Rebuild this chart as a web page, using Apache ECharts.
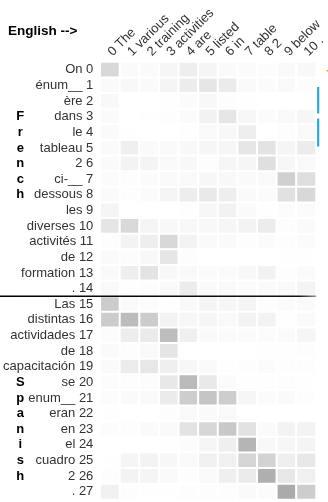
<!DOCTYPE html>
<html><head><meta charset="utf-8">
<script src="https://cdn.jsdelivr.net/npm/echarts@6/dist/echarts.min.js"></script>
<style>html,body{margin:0;padding:0;background:#fff}#c{width:328px;height:502px}</style>
</head><body><div id="c"></div>
<script>
const englishWords = ['The','various','training','activities','are','listed','in','table','2','below','.'];
const frenchWords = ['On','énum__','ère','dans','le','tableau','2','ci-__','dessous','les','diverses','activités','de','formation','.'];
const spanishWords = ['Las','distintas','actividades','de','capacitación','se','enum__','eran','en','el','cuadro','2','.'];
const frenchLetterRow = 3;
const spanishLetterRow = 20;

// attention weights: rows = source words, columns = English words
const frenchAttention = [
  [.153,.020,.020,.035,.067,.039,.020,.016,.012,.024,.027],
  [.020,.027,.020,.039,.075,.098,.078,.020,.016,.024,.012],
  [.027,0,0,.004,.016,.027,.008,.004,0,0,0],
  [.020,0,.004,.008,.016,.051,.098,.031,.016,.024,.035],
  [.020,.004,0,0,.004,.024,.027,.067,0,.008,.024],
  [.020,.063,.020,.020,.027,.035,.035,.098,.110,.039,.075],
  [.020,.047,.043,.024,.027,.008,.035,.035,.125,.031,.024],
  [.016,.008,.016,.024,.024,.031,.027,.020,.024,.184,.129],
  [.020,.008,.016,.039,.071,.086,.067,.020,.016,.118,.153],
  [.039,0,0,0,.004,.031,.051,.020,.004,.012,.016],
  [.102,.149,.039,.027,.027,.027,.035,.047,.075,.008,.020],
  [.008,.047,.067,.153,.047,.020,.020,.008,.016,.008,.016],
  [.020,.012,.027,.098,.008,0,0,0,0,.004,.004],
  [.024,.067,.110,.027,.024,.020,.020,.027,.051,.008,.020],
  [.024,.004,.008,.024,.075,.020,.024,.016,.020,.024,.043]
];
const spanishAttention = [
  [.200,.020,.012,.004,.024,.039,.035,.043,.008,.016,.020],
  [.200,.263,.200,.047,.031,.035,.024,.047,.047,.004,.020],
  [.012,.071,.078,.259,.063,.024,.020,.020,.016,.020,.035],
  [.020,.008,.024,.102,0,0,0,0,.004,.004,.008],
  [.020,.075,.094,.063,.031,.020,.004,.008,.016,.008,.008],
  [.012,.008,.012,.090,.271,.086,.016,.004,.004,.008,.004],
  [.012,.020,.024,.078,.196,.227,.196,.035,.016,.020,.008],
  [.004,0,0,.008,.024,.020,.024,0,0,0,0],
  [.012,.008,.020,.024,.110,.157,.216,.114,.020,.047,.047],
  [0,0,0,.004,.012,.035,.063,.290,.027,.035,.043],
  [.004,.039,.047,.031,.024,.059,.059,.165,.173,.063,.090],
  [.008,.047,.039,.024,.008,.024,.063,.078,.314,.094,.059],
  [.055,.008,.004,.004,.008,.008,.008,.020,.016,.329,.196]
];

const FONT = '"Liberation Sans", Arial, Helvetica, sans-serif';
const xLabels = englishWords.map((w, i) => i + ' ' + w);
const yWords = frenchWords.concat(spanishWords);
const yLabels = yWords.map((w, i) => w + ' ' + i);
const rows = frenchAttention.concat(spanishAttention);
const data = [];
rows.forEach((r, yi) => r.forEach((v, xi) => data.push([xi, yi, v])));
const sideLetters = {};
'French'.split('').forEach((ch, i) => { sideLetters[frenchLetterRow + i] = ch; });
'Spanish'.split('').forEach((ch, i) => { sideLetters[spanishLetterRow + i] = ch; });

const chart = echarts.init(document.getElementById('c'), null, {renderer: 'canvas'});
chart.setOption({
  animation: false,
  textStyle: {fontFamily: FONT},
  title: {text: 'English -->', left: 8, top: 24, padding: 0,
    textStyle: {fontSize: 13.5, fontWeight: 'bold', color: '#000', fontFamily: FONT}},
  grid: {left: 100, top: 62, width: 222.5, height: 437.5, show: true,
    borderColor: '#e0e0e0', borderWidth: 1, backgroundColor: '#fff'},
  xAxis: {type: 'category', position: 'top', data: xLabels,
    axisLine: {show: false}, axisTick: {show: false}, splitLine: {show: false},
    axisLabel: {interval: 0, rotate: -45, margin: 8, fontSize: 13, color: '#333', fontFamily: FONT}},
  yAxis: [
    {type: 'category', inverse: true, data: yLabels,
      axisLine: {show: false}, axisTick: {show: false}, splitLine: {show: false},
      axisLabel: {interval: 0, margin: 7, fontSize: 13, color: '#333', fontFamily: FONT}},
    {type: 'category', inverse: true, position: 'left', offset: 72, data: yLabels,
      axisLine: {show: false}, axisTick: {show: false}, splitLine: {show: false},
      axisLabel: {interval: 0, margin: 8, align: 'center', fontSize: 13, fontWeight: 'bold',
        color: '#000', fontFamily: FONT, formatter: (v, i) => sideLetters[i] || ''}}
  ],
  visualMap: {show: false, min: 0, max: 1, dimension: 2, inRange: {color: ['#ffffff', '#000000']}},
  series: [{type: 'heatmap', data: data, xAxisIndex: 0, yAxisIndex: 0,
    itemStyle: {borderColor: '#fff', borderWidth: 2}, emphasis: {disabled: true}}]
});

const yA = chart.convertToPixel({yAxisIndex: 0}, yLabels[frenchWords.length - 1]);
const yB = chart.convertToPixel({yAxisIndex: 0}, yLabels[frenchWords.length]);
const ySep = Math.round((yA + yB) / 2) + 0.25;
const xl = chart.convertToPixel({xAxisIndex: 0}, xLabels[xLabels.length - 1]);
const xp = chart.convertToPixel({xAxisIndex: 0}, xLabels[xLabels.length - 2]);
const xEnd = xl + (xl - xp) / 2;
chart.setOption({
  graphic: [
    {type: 'line', z: 100, shape: {x1: 0, y1: ySep, x2: xEnd, y2: ySep},
      style: {lineWidth: 1.5, stroke: new echarts.graphic.LinearGradient(0, 0, 1, 0, [
        {offset: 0, color: '#000'}, {offset: 0.94, color: '#111'}, {offset: 1, color: '#aaa'}], false)}},
    {type: 'rect', z: 100, shape: {x: xEnd + 1, y: 87, width: 2.2, height: 26.5}, style: {fill: '#2aa8df'}},
    {type: 'rect', z: 100, shape: {x: xEnd + 1, y: 118.5, width: 2.2, height: 28}, style: {fill: '#2aa8df'}},
    {type: 'rect', z: 100, shape: {x: 326.5, y: 70, width: 1.5, height: 1.5}, style: {fill: '#f0a53a'}}
  ]
});
</script></body></html>
